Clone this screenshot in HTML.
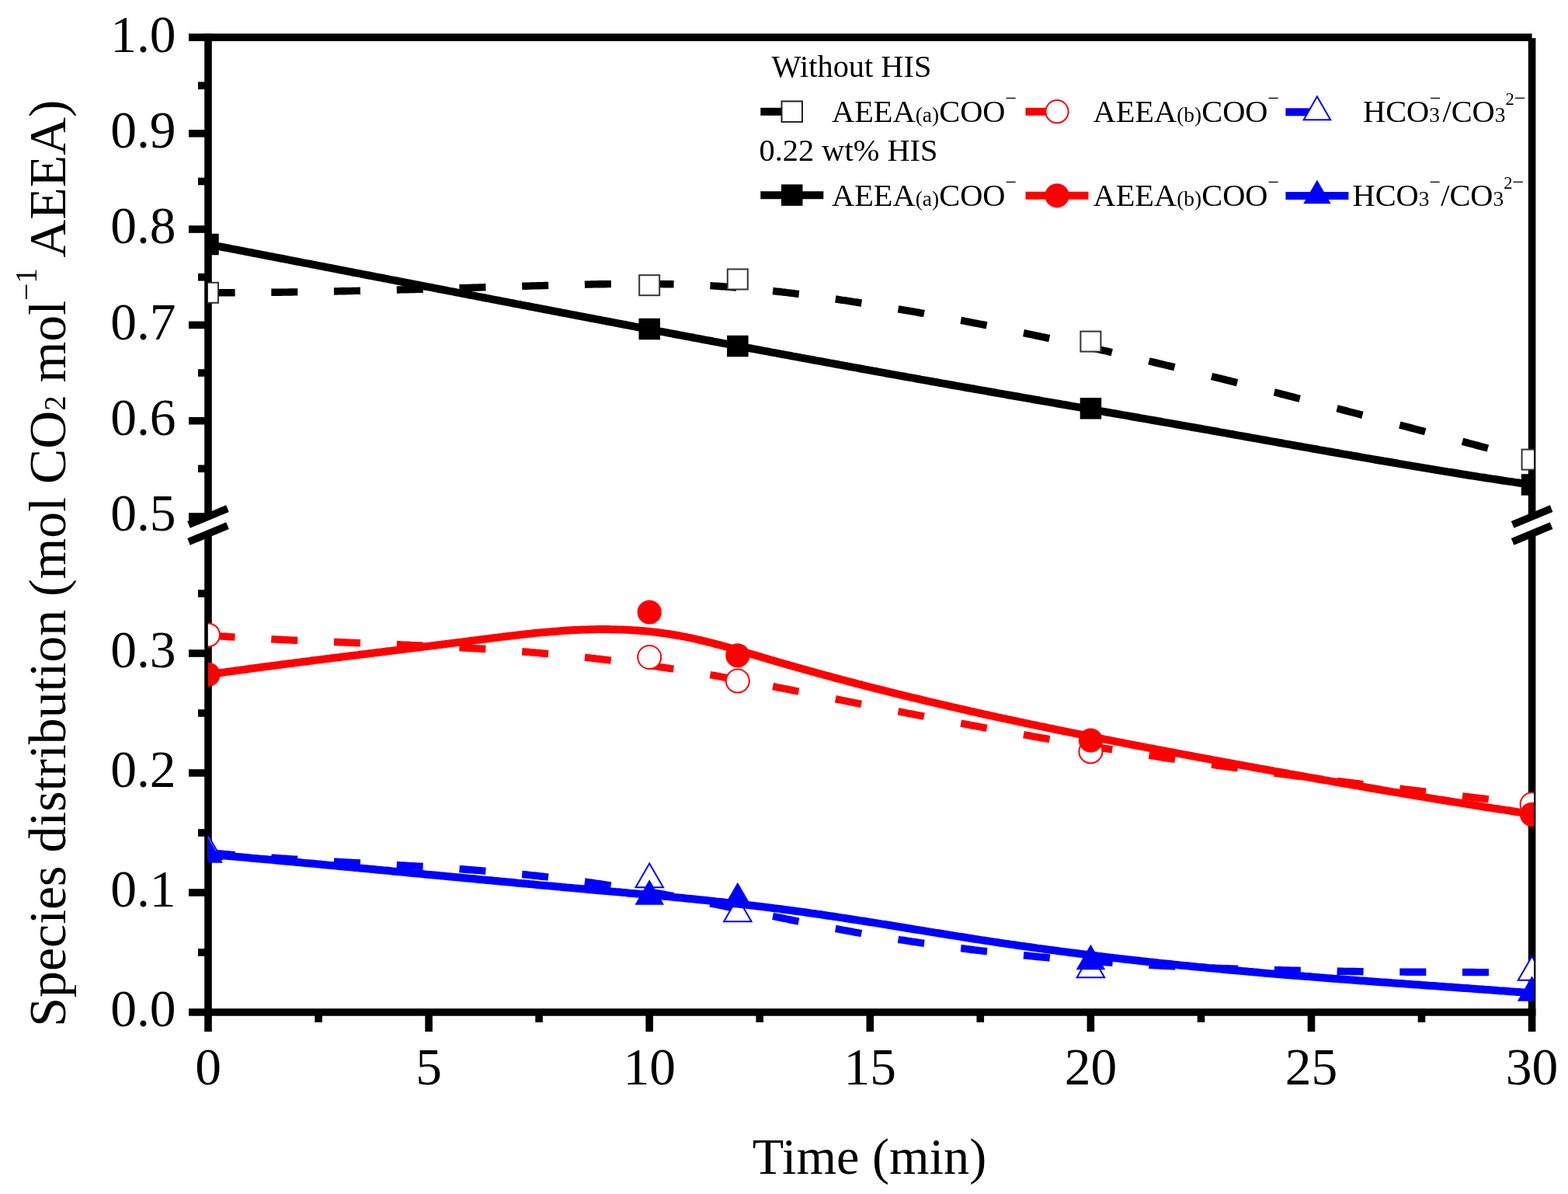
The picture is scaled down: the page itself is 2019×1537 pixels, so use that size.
<!DOCTYPE html>
<html><head><meta charset="utf-8"><title>Species distribution</title>
<style>
html,body{margin:0;padding:0;background:#fff;overflow:hidden;width:2019px;height:1537px;}
svg{display:block;}
text{font-family:'Liberation Serif','Times New Roman',serif;fill:#000;}
</style></head><body>
<svg width="2019" height="1537" viewBox="0 0 2019 1537">
<rect width="2019" height="1537" fill="#fff"/>
<defs><clipPath id="pc"><rect x="267.8" y="40" width="1707.2" height="1265"/></clipPath></defs>
<line x1="243.0" y1="48.1" x2="1972.6" y2="48.1" stroke="#000" stroke-width="9.6"/>
<line x1="243.0" y1="1303.0" x2="1977.4" y2="1303.0" stroke="#000" stroke-width="9.6"/>
<line x1="268.0" y1="43.3" x2="268.0" y2="665.0" stroke="#000" stroke-width="9.6"/>
<line x1="268.0" y1="687.0" x2="268.0" y2="1328.0" stroke="#000" stroke-width="9.6"/>
<line x1="1972.6" y1="49.1" x2="1972.6" y2="665.0" stroke="#000" stroke-width="9.6"/>
<line x1="1972.6" y1="687.0" x2="1972.6" y2="1328.0" stroke="#000" stroke-width="9.6"/>
<line x1="410.1" y1="1303.0" x2="410.1" y2="1316.0" stroke="#000" stroke-width="9.6"/>
<line x1="552.1" y1="1303.0" x2="552.1" y2="1328.0" stroke="#000" stroke-width="9.6"/>
<line x1="694.1" y1="1303.0" x2="694.1" y2="1316.0" stroke="#000" stroke-width="9.6"/>
<line x1="836.2" y1="1303.0" x2="836.2" y2="1328.0" stroke="#000" stroke-width="9.6"/>
<line x1="978.2" y1="1303.0" x2="978.2" y2="1316.0" stroke="#000" stroke-width="9.6"/>
<line x1="1120.3" y1="1303.0" x2="1120.3" y2="1328.0" stroke="#000" stroke-width="9.6"/>
<line x1="1262.3" y1="1303.0" x2="1262.3" y2="1316.0" stroke="#000" stroke-width="9.6"/>
<line x1="1404.4" y1="1303.0" x2="1404.4" y2="1328.0" stroke="#000" stroke-width="9.6"/>
<line x1="1546.5" y1="1303.0" x2="1546.5" y2="1316.0" stroke="#000" stroke-width="9.6"/>
<line x1="1688.5" y1="1303.0" x2="1688.5" y2="1328.0" stroke="#000" stroke-width="9.6"/>
<line x1="1830.5" y1="1303.0" x2="1830.5" y2="1316.0" stroke="#000" stroke-width="9.6"/>
<line x1="255.0" y1="1226.0" x2="268.0" y2="1226.0" stroke="#000" stroke-width="9.6"/>
<line x1="243.0" y1="1149.0" x2="268.0" y2="1149.0" stroke="#000" stroke-width="9.6"/>
<line x1="255.0" y1="1072.0" x2="268.0" y2="1072.0" stroke="#000" stroke-width="9.6"/>
<line x1="243.0" y1="995.0" x2="268.0" y2="995.0" stroke="#000" stroke-width="9.6"/>
<line x1="255.0" y1="918.0" x2="268.0" y2="918.0" stroke="#000" stroke-width="9.6"/>
<line x1="243.0" y1="841.0" x2="268.0" y2="841.0" stroke="#000" stroke-width="9.6"/>
<line x1="255.0" y1="764.0" x2="268.0" y2="764.0" stroke="#000" stroke-width="9.6"/>
<line x1="243.0" y1="665.0" x2="268.0" y2="665.0" stroke="#000" stroke-width="9.6"/>
<line x1="255.0" y1="603.3" x2="268.0" y2="603.3" stroke="#000" stroke-width="9.6"/>
<line x1="243.0" y1="541.7" x2="268.0" y2="541.7" stroke="#000" stroke-width="9.6"/>
<line x1="255.0" y1="480.0" x2="268.0" y2="480.0" stroke="#000" stroke-width="9.6"/>
<line x1="243.0" y1="418.4" x2="268.0" y2="418.4" stroke="#000" stroke-width="9.6"/>
<line x1="255.0" y1="356.8" x2="268.0" y2="356.8" stroke="#000" stroke-width="9.6"/>
<line x1="243.0" y1="295.1" x2="268.0" y2="295.1" stroke="#000" stroke-width="9.6"/>
<line x1="255.0" y1="233.5" x2="268.0" y2="233.5" stroke="#000" stroke-width="9.6"/>
<line x1="243.0" y1="171.8" x2="268.0" y2="171.8" stroke="#000" stroke-width="9.6"/>
<line x1="255.0" y1="110.2" x2="268.0" y2="110.2" stroke="#000" stroke-width="9.6"/>
<line x1="243.0" y1="675.3" x2="293.0" y2="654.7" stroke="#000" stroke-width="9.5"/>
<line x1="243.0" y1="697.3" x2="293.0" y2="676.7" stroke="#000" stroke-width="9.5"/>
<line x1="1947.6" y1="675.3" x2="1997.6" y2="654.7" stroke="#000" stroke-width="9.5"/>
<line x1="1947.6" y1="697.3" x2="1997.6" y2="676.7" stroke="#000" stroke-width="9.5"/>
<g clip-path="url(#pc)">
<path d="M268.6,376.8 L271.5,376.8 L274.5,376.8 L277.5,376.8 L280.5,376.8 L283.5,376.8 L286.5,376.8 L289.5,376.8 L292.5,376.8 L295.5,376.7 L298.5,376.7 L302.6,376.7 M349.3,376.3 L352.0,376.3 L355.0,376.3 L358.0,376.2 L361.0,376.2 L364.0,376.1 L367.0,376.1 L370.0,376.1 L373.0,376.0 L376.0,376.0 L379.0,375.9 L383.3,375.9 M430.0,375.0 L433.0,375.0 L436.0,374.9 L439.0,374.8 L442.0,374.8 L445.0,374.7 L448.0,374.6 L451.0,374.6 L454.0,374.5 L457.0,374.4 L460.0,374.4 L464.0,374.3 M510.8,373.1 L513.5,373.0 L516.5,372.9 L519.5,372.9 L522.5,372.8 L525.5,372.7 L528.5,372.6 L531.5,372.5 L534.5,372.5 L537.5,372.4 L540.5,372.3 L544.7,372.2 M591.5,370.8 L594.0,370.7 L597.0,370.6 L600.0,370.6 L603.0,370.5 L606.0,370.4 L609.0,370.3 L612.0,370.2 L615.0,370.1 L618.0,370.0 L621.0,369.9 L625.5,369.8 M672.2,368.4 L675.0,368.3 L678.0,368.2 L681.0,368.1 L684.0,368.0 L687.0,367.9 L690.0,367.9 L693.0,367.8 L696.0,367.7 L699.0,367.6 L702.0,367.5 L706.2,367.4 M752.9,366.2 L755.5,366.1 L758.5,366.1 L761.5,366.0 L764.5,365.9 L767.5,365.9 L770.5,365.8 L773.5,365.8 L776.5,365.7 L779.5,365.7 L782.5,365.6 L786.9,365.6 M833.6,365.4 L836.5,365.4 L839.5,365.5 L842.5,365.5 L845.5,365.5 L848.5,365.6 L851.5,365.6 L854.5,365.7 L857.5,365.7 L860.5,365.8 L863.5,365.8 L867.6,365.9 M914.4,367.8 L917.0,367.9 L920.0,368.1 L923.0,368.3 L926.0,368.5 L929.0,368.7 L932.0,368.9 L935.0,369.1 L938.0,369.3 L941.0,369.5 L944.0,369.7 L948.3,370.1 M995.1,374.5 L998.0,374.9 L1001.0,375.2 L1004.0,375.5 L1007.0,375.9 L1010.0,376.2 L1013.0,376.6 L1016.0,376.9 L1019.0,377.3 L1022.0,377.7 L1025.0,378.1 L1028.8,378.5 M1075.8,385.0 L1078.5,385.4 L1081.5,385.8 L1084.5,386.3 L1087.5,386.7 L1090.5,387.2 L1093.5,387.6 L1096.5,388.1 L1099.5,388.6 L1102.5,389.0 L1105.5,389.5 L1109.4,390.1 M1156.5,397.8 L1159.5,398.3 L1162.5,398.8 L1165.5,399.4 L1168.5,399.9 L1171.5,400.4 L1174.5,400.9 L1177.5,401.4 L1180.5,402.0 L1183.5,402.5 L1186.5,403.0 L1190.0,403.7 M1237.2,412.4 L1240.0,412.9 L1243.0,413.5 L1246.0,414.1 L1249.0,414.7 L1252.0,415.3 L1255.0,415.9 L1258.0,416.4 L1261.0,417.0 L1264.0,417.6 L1267.0,418.2 L1270.6,418.9 M1318.0,428.6 L1320.5,429.1 L1323.5,429.8 L1326.5,430.4 L1329.5,431.0 L1332.5,431.7 L1335.5,432.3 L1338.5,432.9 L1341.5,433.6 L1344.5,434.2 L1347.5,434.9 L1351.2,435.7 M1398.7,446.1 L1401.5,446.8 L1404.5,447.4 L1407.5,448.1 L1410.5,448.8 L1413.5,449.5 L1416.5,450.2 L1419.5,450.9 L1422.5,451.5 L1425.5,452.2 L1428.5,452.9 L1431.8,453.7 M1479.4,464.8 L1482.0,465.5 L1485.0,466.2 L1488.0,466.9 L1491.0,467.6 L1494.0,468.3 L1497.0,469.0 L1500.0,469.8 L1503.0,470.5 L1506.0,471.2 L1509.0,471.9 L1512.5,472.8 M1560.1,484.5 L1563.0,485.2 L1566.0,485.9 L1569.0,486.7 L1572.0,487.4 L1575.0,488.2 L1578.0,488.9 L1581.0,489.7 L1584.0,490.4 L1587.0,491.2 L1590.0,491.9 L1593.1,492.7 M1640.8,504.9 L1643.5,505.5 L1646.5,506.3 L1649.5,507.1 L1652.5,507.8 L1655.5,508.6 L1658.5,509.4 L1661.5,510.2 L1664.5,510.9 L1667.5,511.7 L1670.5,512.5 L1673.8,513.3 M1721.6,525.8 L1724.5,526.5 L1727.5,527.3 L1730.5,528.1 L1733.5,528.9 L1736.5,529.7 L1739.5,530.5 L1742.5,531.2 L1745.5,532.0 L1748.5,532.8 L1751.5,533.6 L1754.4,534.4 M1802.3,547.0 L1805.0,547.7 L1808.0,548.5 L1811.0,549.3 L1814.0,550.1 L1817.0,550.9 L1820.0,551.7 L1823.0,552.5 L1826.0,553.3 L1829.0,554.1 L1832.0,554.8 L1835.2,555.7 M1883.0,568.3 L1886.0,569.1 L1889.0,569.9 L1892.0,570.7 L1895.0,571.5 L1898.0,572.3 L1901.0,573.1 L1904.0,573.9 L1907.0,574.7 L1910.0,575.5 L1913.0,576.2 L1915.9,577.0 M1963.7,589.6 L1966.5,590.3 L1969.5,591.1 L1972.6,591.9" fill="none" stroke="#000" stroke-width="9.4"/>
<rect x="255.0" y="363.8" width="26" height="26" fill="#fff" stroke="#333" stroke-width="2"/>
<rect x="823.2" y="354.2" width="26" height="26" fill="#fff" stroke="#333" stroke-width="2"/>
<rect x="936.8" y="346.5" width="26" height="26" fill="#fff" stroke="#333" stroke-width="2"/>
<rect x="1391.4" y="426.6" width="26" height="26" fill="#fff" stroke="#333" stroke-width="2"/>
<rect x="1959.6" y="578.6" width="26" height="26" fill="#fff" stroke="#333" stroke-width="2"/>
<path d="M268.6,817.8 L271.5,818.0 L274.5,818.3 L277.5,818.5 L280.5,818.7 L283.5,818.9 L286.5,819.1 L289.5,819.3 L292.5,819.5 L295.5,819.7 L298.5,819.9 L302.5,820.1 M349.3,822.7 L352.0,822.9 L355.0,823.0 L358.0,823.2 L361.0,823.3 L364.0,823.5 L367.0,823.6 L370.0,823.8 L373.0,823.9 L376.0,824.1 L379.0,824.2 L383.3,824.4 M430.0,826.4 L433.0,826.5 L436.0,826.7 L439.0,826.8 L442.0,826.9 L445.0,827.0 L448.0,827.1 L451.0,827.3 L454.0,827.4 L457.0,827.5 L460.0,827.6 L464.0,827.8 M510.8,829.7 L513.5,829.8 L516.5,829.9 L519.5,830.1 L522.5,830.2 L525.5,830.3 L528.5,830.5 L531.5,830.6 L534.5,830.7 L537.5,830.9 L540.5,831.0 L544.7,831.2 M591.5,833.5 L594.0,833.7 L597.0,833.8 L600.0,834.0 L603.0,834.2 L606.0,834.3 L609.0,834.5 L612.0,834.7 L615.0,834.9 L618.0,835.0 L621.0,835.2 L625.4,835.5 M672.2,838.8 L675.0,839.0 L678.0,839.2 L681.0,839.4 L684.0,839.7 L687.0,839.9 L690.0,840.2 L693.0,840.4 L696.0,840.7 L699.0,841.0 L702.0,841.2 L706.1,841.6 M752.9,846.2 L755.5,846.5 L758.5,846.8 L761.5,847.2 L764.5,847.5 L767.5,847.9 L770.5,848.2 L773.5,848.5 L776.5,848.9 L779.5,849.2 L782.5,849.6 L786.7,850.1 M833.6,856.2 L836.5,856.6 L839.5,857.0 L842.5,857.5 L845.5,857.9 L848.5,858.3 L851.5,858.8 L854.5,859.2 L857.5,859.7 L860.5,860.1 L863.5,860.6 L867.3,861.1 M914.4,868.7 L917.0,869.2 L920.0,869.7 L923.0,870.2 L926.0,870.7 L929.0,871.3 L932.0,871.8 L935.0,872.3 L938.0,872.9 L941.0,873.4 L944.0,873.9 L947.8,874.6 M995.1,883.6 L998.0,884.2 L1001.0,884.8 L1004.0,885.3 L1007.0,885.9 L1010.0,886.5 L1013.0,887.1 L1016.0,887.7 L1019.0,888.3 L1022.0,888.9 L1025.0,889.5 L1028.4,890.2 M1075.8,899.7 L1078.5,900.3 L1081.5,900.9 L1084.5,901.5 L1087.5,902.1 L1090.5,902.7 L1093.5,903.3 L1096.5,903.9 L1099.5,904.5 L1102.5,905.1 L1105.5,905.7 L1109.1,906.4 M1156.5,915.7 L1159.5,916.3 L1162.5,916.9 L1165.5,917.5 L1168.5,918.1 L1171.5,918.6 L1174.5,919.2 L1177.5,919.8 L1180.5,920.4 L1183.5,920.9 L1186.5,921.5 L1189.9,922.2 M1237.2,931.1 L1240.0,931.6 L1243.0,932.2 L1246.0,932.7 L1249.0,933.3 L1252.0,933.8 L1255.0,934.4 L1258.0,934.9 L1261.0,935.5 L1264.0,936.0 L1267.0,936.6 L1270.7,937.3 M1318.0,945.7 L1320.5,946.2 L1323.5,946.7 L1326.5,947.2 L1329.5,947.8 L1332.5,948.3 L1335.5,948.8 L1338.5,949.3 L1341.5,949.9 L1344.5,950.4 L1347.5,950.9 L1351.5,951.6 M1398.7,959.5 L1401.5,960.0 L1404.5,960.5 L1407.5,961.0 L1410.5,961.5 L1413.5,962.0 L1416.5,962.5 L1419.5,963.0 L1422.5,963.4 L1425.5,963.9 L1428.5,964.4 L1432.2,965.0 M1479.4,972.4 L1482.0,972.8 L1485.0,973.2 L1488.0,973.7 L1491.0,974.2 L1494.0,974.6 L1497.0,975.1 L1500.0,975.5 L1503.0,976.0 L1506.0,976.4 L1509.0,976.8 L1513.0,977.4 M1560.1,984.2 L1563.0,984.6 L1566.0,985.0 L1569.0,985.5 L1572.0,985.9 L1575.0,986.3 L1578.0,986.7 L1581.0,987.1 L1584.0,987.5 L1587.0,987.9 L1590.0,988.4 L1593.8,988.9 M1640.8,995.1 L1643.5,995.5 L1646.5,995.9 L1649.5,996.3 L1652.5,996.7 L1655.5,997.0 L1658.5,997.4 L1661.5,997.8 L1664.5,998.2 L1667.5,998.6 L1670.5,999.0 L1674.6,999.5 M1721.6,1005.4 L1724.5,1005.8 L1727.5,1006.1 L1730.5,1006.5 L1733.5,1006.9 L1736.5,1007.2 L1739.5,1007.6 L1742.5,1008.0 L1745.5,1008.3 L1748.5,1008.7 L1751.5,1009.1 L1755.3,1009.5 M1802.3,1015.2 L1805.0,1015.5 L1808.0,1015.9 L1811.0,1016.2 L1814.0,1016.6 L1817.0,1017.0 L1820.0,1017.3 L1823.0,1017.7 L1826.0,1018.0 L1829.0,1018.4 L1832.0,1018.8 L1836.0,1019.2 M1883.0,1024.8 L1886.0,1025.2 L1889.0,1025.5 L1892.0,1025.9 L1895.0,1026.2 L1898.0,1026.6 L1901.0,1026.9 L1904.0,1027.3 L1907.0,1027.7 L1910.0,1028.0 L1913.0,1028.4 L1916.8,1028.8 M1963.7,1034.4 L1966.5,1034.8 L1969.5,1035.1 L1972.6,1035.5" fill="none" stroke="#f00" stroke-width="9.4"/>
<circle cx="268.0" cy="817.4" r="15" fill="#fff" stroke="#f00" stroke-width="2"/>
<circle cx="836.2" cy="846.0" r="15" fill="#fff" stroke="#f00" stroke-width="2"/>
<circle cx="949.8" cy="876.6" r="15" fill="#fff" stroke="#f00" stroke-width="2"/>
<circle cx="1404.4" cy="967.4" r="15" fill="#fff" stroke="#f00" stroke-width="2"/>
<circle cx="1972.6" cy="1035.3" r="15" fill="#fff" stroke="#f00" stroke-width="2"/>
<path d="M268.6,1097.6 L271.5,1097.8 L274.5,1098.1 L277.5,1098.4 L280.5,1098.7 L283.5,1098.9 L286.5,1099.2 L289.5,1099.5 L292.5,1099.7 L295.5,1100.0 L298.5,1100.2 L302.5,1100.6 M349.3,1104.1 L352.0,1104.3 L355.0,1104.5 L358.0,1104.7 L361.0,1104.9 L364.0,1105.1 L367.0,1105.3 L370.0,1105.5 L373.0,1105.7 L376.0,1105.9 L379.0,1106.1 L383.2,1106.3 M430.0,1109.1 L433.0,1109.2 L436.0,1109.4 L439.0,1109.6 L442.0,1109.7 L445.0,1109.9 L448.0,1110.1 L451.0,1110.2 L454.0,1110.4 L457.0,1110.6 L460.0,1110.7 L464.0,1110.9 M510.8,1113.5 L513.5,1113.7 L516.5,1113.9 L519.5,1114.0 L522.5,1114.2 L525.5,1114.4 L528.5,1114.6 L531.5,1114.7 L534.5,1114.9 L537.5,1115.1 L540.5,1115.3 L544.7,1115.5 M591.5,1118.6 L594.0,1118.8 L597.0,1119.0 L600.0,1119.2 L603.0,1119.5 L606.0,1119.7 L609.0,1119.9 L612.0,1120.2 L615.0,1120.4 L618.0,1120.6 L621.0,1120.9 L625.4,1121.2 M672.2,1125.5 L675.0,1125.7 L678.0,1126.0 L681.0,1126.3 L684.0,1126.7 L687.0,1127.0 L690.0,1127.3 L693.0,1127.6 L696.0,1128.0 L699.0,1128.3 L702.0,1128.6 L706.0,1129.1 M752.9,1135.0 L755.5,1135.4 L758.5,1135.8 L761.5,1136.2 L764.5,1136.6 L767.5,1137.1 L770.5,1137.5 L773.5,1137.9 L776.5,1138.4 L779.5,1138.8 L782.5,1139.3 L786.6,1139.9 M833.6,1147.5 L836.5,1148.0 L839.5,1148.5 L842.5,1149.1 L845.5,1149.6 L848.5,1150.1 L851.5,1150.7 L854.5,1151.2 L857.5,1151.8 L860.5,1152.3 L863.5,1152.9 L867.1,1153.5 M914.4,1162.8 L917.0,1163.3 L920.0,1163.9 L923.0,1164.5 L926.0,1165.1 L929.0,1165.7 L932.0,1166.3 L935.0,1167.0 L938.0,1167.6 L941.0,1168.2 L944.0,1168.8 L947.7,1169.6 M995.1,1179.4 L998.0,1180.0 L1001.0,1180.6 L1004.0,1181.2 L1007.0,1181.8 L1010.0,1182.4 L1013.0,1183.0 L1016.0,1183.6 L1019.0,1184.3 L1022.0,1184.9 L1025.0,1185.5 L1028.4,1186.2 M1075.8,1195.4 L1078.5,1195.9 L1081.5,1196.5 L1084.5,1197.0 L1087.5,1197.6 L1090.5,1198.1 L1093.5,1198.7 L1096.5,1199.2 L1099.5,1199.8 L1102.5,1200.3 L1105.5,1200.8 L1109.3,1201.5 M1156.5,1209.3 L1159.5,1209.8 L1162.5,1210.2 L1165.5,1210.7 L1168.5,1211.2 L1171.5,1211.6 L1174.5,1212.1 L1177.5,1212.5 L1180.5,1212.9 L1183.5,1213.4 L1186.5,1213.8 L1190.1,1214.3 M1237.2,1220.7 L1240.0,1221.0 L1243.0,1221.4 L1246.0,1221.8 L1249.0,1222.1 L1252.0,1222.5 L1255.0,1222.9 L1258.0,1223.2 L1261.0,1223.6 L1264.0,1223.9 L1267.0,1224.3 L1271.0,1224.7 M1318.0,1229.8 L1320.5,1230.0 L1323.5,1230.3 L1326.5,1230.6 L1329.5,1230.9 L1332.5,1231.2 L1335.5,1231.5 L1338.5,1231.8 L1341.5,1232.0 L1344.5,1232.3 L1347.5,1232.6 L1351.8,1233.0 M1398.7,1236.9 L1401.5,1237.1 L1404.5,1237.3 L1407.5,1237.5 L1410.5,1237.8 L1413.5,1238.0 L1416.5,1238.2 L1419.5,1238.4 L1422.5,1238.6 L1425.5,1238.8 L1428.5,1239.0 L1432.6,1239.3 M1479.4,1242.2 L1482.0,1242.3 L1485.0,1242.5 L1488.0,1242.7 L1491.0,1242.8 L1494.0,1243.0 L1497.0,1243.2 L1500.0,1243.3 L1503.0,1243.5 L1506.0,1243.6 L1509.0,1243.8 L1513.4,1244.0 M1560.1,1246.0 L1563.0,1246.1 L1566.0,1246.3 L1569.0,1246.4 L1572.0,1246.5 L1575.0,1246.6 L1578.0,1246.7 L1581.0,1246.8 L1584.0,1246.9 L1587.0,1247.0 L1590.0,1247.1 L1594.1,1247.3 M1640.8,1248.6 L1643.5,1248.7 L1646.5,1248.8 L1649.5,1248.8 L1652.5,1248.9 L1655.5,1249.0 L1658.5,1249.0 L1661.5,1249.1 L1664.5,1249.2 L1667.5,1249.2 L1670.5,1249.3 L1674.8,1249.4 M1721.6,1250.2 L1724.5,1250.3 L1727.5,1250.3 L1730.5,1250.4 L1733.5,1250.4 L1736.5,1250.4 L1739.5,1250.5 L1742.5,1250.5 L1745.5,1250.5 L1748.5,1250.6 L1751.5,1250.6 L1755.6,1250.7 M1802.3,1251.1 L1805.0,1251.1 L1808.0,1251.1 L1811.0,1251.2 L1814.0,1251.2 L1817.0,1251.2 L1820.0,1251.2 L1823.0,1251.2 L1826.0,1251.3 L1829.0,1251.3 L1832.0,1251.3 L1836.3,1251.3 M1883.0,1251.5 L1886.0,1251.5 L1889.0,1251.5 L1892.0,1251.5 L1895.0,1251.5 L1898.0,1251.5 L1901.0,1251.6 L1904.0,1251.6 L1907.0,1251.6 L1910.0,1251.6 L1913.0,1251.6 L1917.0,1251.6 M1963.7,1251.7 L1966.5,1251.7 L1969.5,1251.7 L1972.6,1251.7" fill="none" stroke="#00f" stroke-width="9.4"/>
<polygon points="268.0,1075.5 250.2,1106.2 285.8,1106.2" fill="#fff" stroke="#00f" stroke-width="2" stroke-linejoin="miter"/>
<polygon points="836.2,1111.5 818.5,1142.2 854.0,1142.2" fill="#fff" stroke="#00f" stroke-width="2" stroke-linejoin="miter"/>
<polygon points="949.8,1155.5 932.1,1186.2 967.6,1186.2" fill="#fff" stroke="#00f" stroke-width="2" stroke-linejoin="miter"/>
<polygon points="1404.4,1227.5 1386.7,1258.2 1422.2,1258.2" fill="#fff" stroke="#00f" stroke-width="2" stroke-linejoin="miter"/>
<polygon points="1972.6,1231.0 1954.8,1261.7 1990.3,1261.7" fill="#fff" stroke="#00f" stroke-width="2" stroke-linejoin="miter"/>
<path d="M268.0,314.5 L271.0,315.1 L274.0,315.7 L277.0,316.2 L280.0,316.8 L283.0,317.4 L286.0,318.0 L289.0,318.5 L292.0,319.1 L295.0,319.7 L298.0,320.3 L301.0,320.9 L304.0,321.4 L307.0,322.0 L310.0,322.6 L313.0,323.2 L316.0,323.8 L319.0,324.3 L322.0,324.9 L325.0,325.5 L328.0,326.1 L331.0,326.7 L334.0,327.2 L337.0,327.8 L340.0,328.4 L343.0,329.0 L346.0,329.6 L349.0,330.1 L352.0,330.7 L355.0,331.3 L358.0,331.9 L361.0,332.5 L364.0,333.0 L367.0,333.6 L370.0,334.2 L373.0,334.8 L376.0,335.4 L379.0,336.0 L382.0,336.5 L385.0,337.1 L388.0,337.7 L391.0,338.3 L394.0,338.9 L397.0,339.4 L400.0,340.0 L403.0,340.6 L406.0,341.2 L409.0,341.8 L412.0,342.3 L415.0,342.9 L418.0,343.5 L421.0,344.1 L424.0,344.7 L427.0,345.2 L430.0,345.8 L433.0,346.4 L436.0,347.0 L439.0,347.6 L442.0,348.2 L445.0,348.7 L448.0,349.3 L451.0,349.9 L454.0,350.5 L457.0,351.1 L460.0,351.6 L463.0,352.2 L466.0,352.8 L469.0,353.4 L472.0,354.0 L475.0,354.5 L478.0,355.1 L481.0,355.7 L484.0,356.3 L487.0,356.9 L490.0,357.4 L493.0,358.0 L496.0,358.6 L499.0,359.2 L502.0,359.8 L505.0,360.4 L508.0,360.9 L511.0,361.5 L514.0,362.1 L517.0,362.7 L520.0,363.3 L523.0,363.8 L526.0,364.4 L529.0,365.0 L532.0,365.6 L535.0,366.2 L538.0,366.7 L541.0,367.3 L544.0,367.9 L547.0,368.5 L550.0,369.1 L553.0,369.6 L556.0,370.2 L559.0,370.8 L562.0,371.4 L565.0,372.0 L568.0,372.5 L571.0,373.1 L574.0,373.7 L577.0,374.3 L580.0,374.9 L583.0,375.4 L586.0,376.0 L589.0,376.6 L592.0,377.2 L595.0,377.8 L598.0,378.3 L601.0,378.9 L604.0,379.5 L607.0,380.1 L610.0,380.6 L613.0,381.2 L616.0,381.8 L619.0,382.4 L622.0,383.0 L625.0,383.5 L628.0,384.1 L631.0,384.7 L634.0,385.3 L637.0,385.9 L640.0,386.4 L643.0,387.0 L646.0,387.6 L649.0,388.2 L652.0,388.7 L655.0,389.3 L658.0,389.9 L661.0,390.5 L664.0,391.1 L667.0,391.6 L670.0,392.2 L673.0,392.8 L676.0,393.4 L679.0,393.9 L682.0,394.5 L685.0,395.1 L688.0,395.7 L691.0,396.2 L694.0,396.8 L697.0,397.4 L700.0,398.0 L703.0,398.5 L706.0,399.1 L709.0,399.7 L712.0,400.3 L715.0,400.8 L718.0,401.4 L721.0,402.0 L724.0,402.6 L727.0,403.1 L730.0,403.7 L733.0,404.3 L736.0,404.9 L739.0,405.4 L742.0,406.0 L745.0,406.6 L748.0,407.2 L751.0,407.7 L754.0,408.3 L757.0,408.9 L760.0,409.5 L763.0,410.0 L766.0,410.6 L769.0,411.2 L772.0,411.7 L775.0,412.3 L778.0,412.9 L781.0,413.5 L784.0,414.0 L787.0,414.6 L790.0,415.2 L793.0,415.7 L796.0,416.3 L799.0,416.9 L802.0,417.5 L805.0,418.0 L808.0,418.6 L811.0,419.2 L814.0,419.7 L817.0,420.3 L820.0,420.9 L823.0,421.5 L826.0,422.0 L829.0,422.6 L832.0,423.2 L835.0,423.7 L838.0,424.3 L841.0,424.9 L844.0,425.4 L847.0,426.0 L850.0,426.6 L853.0,427.1 L856.0,427.7 L859.0,428.3 L862.0,428.8 L865.0,429.4 L868.0,430.0 L871.0,430.5 L874.0,431.1 L877.0,431.7 L880.0,432.2 L883.0,432.8 L886.0,433.4 L889.0,433.9 L892.0,434.5 L895.0,435.1 L898.0,435.6 L901.0,436.2 L904.0,436.8 L907.0,437.3 L910.0,437.9 L913.0,438.4 L916.0,439.0 L919.0,439.6 L922.0,440.1 L925.0,440.7 L928.0,441.3 L931.0,441.8 L934.0,442.4 L937.0,442.9 L940.0,443.5 L943.0,444.1 L946.0,444.6 L949.0,445.2 L952.0,445.7 L955.0,446.3 L958.0,446.9 L961.0,447.4 L964.0,448.0 L967.0,448.5 L970.0,449.1 L973.0,449.7 L976.0,450.2 L979.0,450.8 L982.0,451.3 L985.0,451.9 L988.0,452.4 L991.0,453.0 L994.0,453.6 L997.0,454.1 L1000.0,454.7 L1003.0,455.2 L1006.0,455.8 L1009.0,456.3 L1012.0,456.9 L1015.0,457.4 L1018.0,458.0 L1021.0,458.6 L1024.0,459.1 L1027.0,459.7 L1030.0,460.2 L1033.0,460.8 L1036.0,461.3 L1039.0,461.9 L1042.0,462.4 L1045.0,463.0 L1048.0,463.5 L1051.0,464.1 L1054.0,464.6 L1057.0,465.2 L1060.0,465.7 L1063.0,466.3 L1066.0,466.8 L1069.0,467.4 L1072.0,467.9 L1075.0,468.5 L1078.0,469.0 L1081.0,469.6 L1084.0,470.1 L1087.0,470.7 L1090.0,471.2 L1093.0,471.8 L1096.0,472.3 L1099.0,472.9 L1102.0,473.4 L1105.0,473.9 L1108.0,474.5 L1111.0,475.0 L1114.0,475.6 L1117.0,476.1 L1120.0,476.7 L1123.0,477.2 L1126.0,477.8 L1129.0,478.3 L1132.0,478.8 L1135.0,479.4 L1138.0,479.9 L1141.0,480.5 L1144.0,481.0 L1147.0,481.6 L1150.0,482.1 L1153.0,482.6 L1156.0,483.2 L1159.0,483.7 L1162.0,484.3 L1165.0,484.8 L1168.0,485.3 L1171.0,485.9 L1174.0,486.4 L1177.0,486.9 L1180.0,487.5 L1183.0,488.0 L1186.0,488.6 L1189.0,489.1 L1192.0,489.6 L1195.0,490.2 L1198.0,490.7 L1201.0,491.2 L1204.0,491.8 L1207.0,492.3 L1210.0,492.8 L1213.0,493.4 L1216.0,493.9 L1219.0,494.4 L1222.0,495.0 L1225.0,495.5 L1228.0,496.0 L1231.0,496.6 L1234.0,497.1 L1237.0,497.6 L1240.0,498.2 L1243.0,498.7 L1246.0,499.2 L1249.0,499.7 L1252.0,500.3 L1255.0,500.8 L1258.0,501.3 L1261.0,501.9 L1264.0,502.4 L1267.0,502.9 L1270.0,503.4 L1273.0,504.0 L1276.0,504.5 L1279.0,505.0 L1282.0,505.5 L1285.0,506.1 L1288.0,506.6 L1291.0,507.1 L1294.0,507.7 L1297.0,508.2 L1300.0,508.7 L1303.0,509.2 L1306.0,509.8 L1309.0,510.3 L1312.0,510.8 L1315.0,511.3 L1318.0,511.9 L1321.0,512.4 L1324.0,512.9 L1327.0,513.4 L1330.0,514.0 L1333.0,514.5 L1336.0,515.0 L1339.0,515.5 L1342.0,516.1 L1345.0,516.6 L1348.0,517.1 L1351.0,517.6 L1354.0,518.1 L1357.0,518.7 L1360.0,519.2 L1363.0,519.7 L1366.0,520.2 L1369.0,520.8 L1372.0,521.3 L1375.0,521.8 L1378.0,522.3 L1381.0,522.9 L1384.0,523.4 L1387.0,523.9 L1390.0,524.4 L1393.0,525.0 L1396.0,525.5 L1399.0,526.0 L1402.0,526.5 L1405.0,527.0 L1408.0,527.6 L1411.0,528.1 L1414.0,528.6 L1417.0,529.1 L1420.0,529.7 L1423.0,530.2 L1426.0,530.7 L1429.0,531.2 L1432.0,531.8 L1435.0,532.3 L1438.0,532.8 L1441.0,533.3 L1444.0,533.9 L1447.0,534.4 L1450.0,534.9 L1453.0,535.4 L1456.0,536.0 L1459.0,536.5 L1462.0,537.0 L1465.0,537.5 L1468.0,538.1 L1471.0,538.6 L1474.0,539.1 L1477.0,539.6 L1480.0,540.2 L1483.0,540.7 L1486.0,541.2 L1489.0,541.7 L1492.0,542.3 L1495.0,542.8 L1498.0,543.3 L1501.0,543.9 L1504.0,544.4 L1507.0,544.9 L1510.0,545.4 L1513.0,546.0 L1516.0,546.5 L1519.0,547.0 L1522.0,547.6 L1525.0,548.1 L1528.0,548.6 L1531.0,549.2 L1534.0,549.7 L1537.0,550.2 L1540.0,550.7 L1543.0,551.3 L1546.0,551.8 L1549.0,552.3 L1552.0,552.9 L1555.0,553.4 L1558.0,553.9 L1561.0,554.5 L1564.0,555.0 L1567.0,555.5 L1570.0,556.1 L1573.0,556.6 L1576.0,557.1 L1579.0,557.7 L1582.0,558.2 L1585.0,558.8 L1588.0,559.3 L1591.0,559.8 L1594.0,560.4 L1597.0,560.9 L1600.0,561.4 L1603.0,562.0 L1606.0,562.5 L1609.0,563.0 L1612.0,563.6 L1615.0,564.1 L1618.0,564.6 L1621.0,565.2 L1624.0,565.7 L1627.0,566.3 L1630.0,566.8 L1633.0,567.3 L1636.0,567.9 L1639.0,568.4 L1642.0,568.9 L1645.0,569.5 L1648.0,570.0 L1651.0,570.5 L1654.0,571.1 L1657.0,571.6 L1660.0,572.1 L1663.0,572.7 L1666.0,573.2 L1669.0,573.7 L1672.0,574.3 L1675.0,574.8 L1678.0,575.3 L1681.0,575.9 L1684.0,576.4 L1687.0,576.9 L1690.0,577.5 L1693.0,578.0 L1696.0,578.5 L1699.0,579.1 L1702.0,579.6 L1705.0,580.1 L1708.0,580.7 L1711.0,581.2 L1714.0,581.7 L1717.0,582.2 L1720.0,582.8 L1723.0,583.3 L1726.0,583.8 L1729.0,584.4 L1732.0,584.9 L1735.0,585.4 L1738.0,585.9 L1741.0,586.5 L1744.0,587.0 L1747.0,587.5 L1750.0,588.0 L1753.0,588.6 L1756.0,589.1 L1759.0,589.6 L1762.0,590.1 L1765.0,590.6 L1768.0,591.2 L1771.0,591.7 L1774.0,592.2 L1777.0,592.7 L1780.0,593.2 L1783.0,593.8 L1786.0,594.3 L1789.0,594.8 L1792.0,595.3 L1795.0,595.8 L1798.0,596.3 L1801.0,596.8 L1804.0,597.4 L1807.0,597.9 L1810.0,598.4 L1813.0,598.9 L1816.0,599.4 L1819.0,599.9 L1822.0,600.4 L1825.0,600.9 L1828.0,601.4 L1831.0,601.9 L1834.0,602.4 L1837.0,602.9 L1840.0,603.4 L1843.0,603.9 L1846.0,604.4 L1849.0,604.9 L1852.0,605.4 L1855.0,605.9 L1858.0,606.4 L1861.0,606.9 L1864.0,607.4 L1867.0,607.8 L1870.0,608.3 L1873.0,608.8 L1876.0,609.3 L1879.0,609.8 L1882.0,610.3 L1885.0,610.7 L1888.0,611.2 L1891.0,611.7 L1894.0,612.2 L1897.0,612.6 L1900.0,613.1 L1903.0,613.6 L1906.0,614.1 L1909.0,614.5 L1912.0,615.0 L1915.0,615.5 L1918.0,615.9 L1921.0,616.4 L1924.0,616.8 L1927.0,617.3 L1930.0,617.8 L1933.0,618.2 L1936.0,618.7 L1939.0,619.1 L1942.0,619.6 L1945.0,620.0 L1948.0,620.4 L1951.0,620.9 L1954.0,621.3 L1957.0,621.8 L1960.0,622.2 L1963.0,622.6 L1966.0,623.1 L1969.0,623.5 L1972.0,623.9 L1972.6,624.0" fill="none" stroke="#000" stroke-width="10"/>
<rect x="254.2" y="300.8" width="27.5" height="27.5" fill="#000" stroke="none" stroke-width="0"/>
<rect x="822.5" y="409.8" width="27.5" height="27.5" fill="#000" stroke="none" stroke-width="0"/>
<rect x="936.1" y="431.8" width="27.5" height="27.5" fill="#000" stroke="none" stroke-width="0"/>
<rect x="1390.7" y="512.0" width="27.5" height="27.5" fill="#000" stroke="none" stroke-width="0"/>
<rect x="1958.8" y="610.2" width="27.5" height="27.5" fill="#000" stroke="none" stroke-width="0"/>
<path d="M268.0,868.3 L271.0,867.9 L274.0,867.5 L277.0,867.0 L280.0,866.6 L283.0,866.2 L286.0,865.8 L289.0,865.4 L292.0,864.9 L295.0,864.5 L298.0,864.1 L301.0,863.7 L304.0,863.3 L307.0,862.9 L310.0,862.5 L313.0,862.1 L316.0,861.7 L319.0,861.3 L322.0,860.8 L325.0,860.4 L328.0,860.0 L331.0,859.6 L334.0,859.2 L337.0,858.8 L340.0,858.4 L343.0,858.1 L346.0,857.7 L349.0,857.3 L352.0,856.9 L355.0,856.5 L358.0,856.1 L361.0,855.7 L364.0,855.3 L367.0,854.9 L370.0,854.5 L373.0,854.1 L376.0,853.8 L379.0,853.4 L382.0,853.0 L385.0,852.6 L388.0,852.2 L391.0,851.8 L394.0,851.5 L397.0,851.1 L400.0,850.7 L403.0,850.3 L406.0,849.9 L409.0,849.5 L412.0,849.2 L415.0,848.8 L418.0,848.4 L421.0,848.0 L424.0,847.7 L427.0,847.3 L430.0,846.9 L433.0,846.5 L436.0,846.2 L439.0,845.8 L442.0,845.4 L445.0,845.0 L448.0,844.7 L451.0,844.3 L454.0,843.9 L457.0,843.5 L460.0,843.2 L463.0,842.8 L466.0,842.4 L469.0,842.1 L472.0,841.7 L475.0,841.3 L478.0,840.9 L481.0,840.6 L484.0,840.2 L487.0,839.8 L490.0,839.5 L493.0,839.1 L496.0,838.7 L499.0,838.3 L502.0,838.0 L505.0,837.6 L508.0,837.2 L511.0,836.9 L514.0,836.5 L517.0,836.1 L520.0,835.7 L523.0,835.4 L526.0,835.0 L529.0,834.6 L532.0,834.3 L535.0,833.9 L538.0,833.5 L541.0,833.1 L544.0,832.8 L547.0,832.4 L550.0,832.0 L553.0,831.6 L556.0,831.3 L559.0,830.9 L562.0,830.5 L565.0,830.1 L568.0,829.8 L571.0,829.4 L574.0,829.0 L577.0,828.6 L580.0,828.3 L583.0,827.9 L586.0,827.5 L589.0,827.1 L592.0,826.7 L595.0,826.4 L598.0,826.0 L601.0,825.6 L604.0,825.2 L607.0,824.8 L610.0,824.5 L613.0,824.1 L616.0,823.7 L619.0,823.3 L622.0,822.9 L625.0,822.5 L628.0,822.2 L631.0,821.8 L634.0,821.4 L637.0,821.0 L640.0,820.6 L643.0,820.3 L646.0,819.9 L649.0,819.5 L652.0,819.2 L655.0,818.8 L658.0,818.5 L661.0,818.1 L664.0,817.8 L667.0,817.4 L670.0,817.1 L673.0,816.7 L676.0,816.4 L679.0,816.1 L682.0,815.8 L685.0,815.4 L688.0,815.1 L691.0,814.8 L694.0,814.5 L697.0,814.3 L700.0,814.0 L703.0,813.7 L706.0,813.4 L709.0,813.2 L712.0,812.9 L715.0,812.7 L718.0,812.5 L721.0,812.2 L724.0,812.0 L727.0,811.8 L730.0,811.6 L733.0,811.5 L736.0,811.3 L739.0,811.1 L742.0,811.0 L745.0,810.8 L748.0,810.7 L751.0,810.6 L754.0,810.5 L757.0,810.4 L760.0,810.3 L763.0,810.2 L766.0,810.2 L769.0,810.1 L772.0,810.1 L775.0,810.1 L778.0,810.1 L781.0,810.1 L784.0,810.1 L787.0,810.2 L790.0,810.2 L793.0,810.3 L796.0,810.4 L799.0,810.5 L802.0,810.6 L805.0,810.7 L808.0,810.8 L811.0,811.0 L814.0,811.2 L817.0,811.4 L820.0,811.6 L823.0,811.8 L826.0,812.0 L829.0,812.3 L832.0,812.6 L835.0,812.8 L838.0,813.1 L841.0,813.5 L844.0,813.8 L847.0,814.2 L850.0,814.6 L853.0,814.9 L856.0,815.4 L859.0,815.8 L862.0,816.2 L865.0,816.7 L868.0,817.2 L871.0,817.7 L874.0,818.2 L877.0,818.8 L880.0,819.4 L883.0,819.9 L886.0,820.6 L889.0,821.2 L892.0,821.8 L895.0,822.5 L898.0,823.2 L901.0,823.8 L904.0,824.6 L907.0,825.3 L910.0,826.0 L913.0,826.8 L916.0,827.5 L919.0,828.3 L922.0,829.1 L925.0,829.9 L928.0,830.7 L931.0,831.5 L934.0,832.3 L937.0,833.2 L940.0,834.0 L943.0,834.9 L946.0,835.7 L949.0,836.6 L952.0,837.5 L955.0,838.3 L958.0,839.2 L961.0,840.1 L964.0,841.0 L967.0,841.9 L970.0,842.7 L973.0,843.6 L976.0,844.5 L979.0,845.4 L982.0,846.3 L985.0,847.2 L988.0,848.1 L991.0,849.0 L994.0,849.8 L997.0,850.7 L1000.0,851.6 L1003.0,852.5 L1006.0,853.3 L1009.0,854.2 L1012.0,855.1 L1015.0,855.9 L1018.0,856.8 L1021.0,857.6 L1024.0,858.5 L1027.0,859.3 L1030.0,860.2 L1033.0,861.0 L1036.0,861.9 L1039.0,862.7 L1042.0,863.5 L1045.0,864.4 L1048.0,865.2 L1051.0,866.0 L1054.0,866.9 L1057.0,867.7 L1060.0,868.5 L1063.0,869.3 L1066.0,870.1 L1069.0,870.9 L1072.0,871.7 L1075.0,872.6 L1078.0,873.4 L1081.0,874.2 L1084.0,875.0 L1087.0,875.7 L1090.0,876.5 L1093.0,877.3 L1096.0,878.1 L1099.0,878.9 L1102.0,879.7 L1105.0,880.5 L1108.0,881.2 L1111.0,882.0 L1114.0,882.8 L1117.0,883.6 L1120.0,884.3 L1123.0,885.1 L1126.0,885.9 L1129.0,886.6 L1132.0,887.4 L1135.0,888.1 L1138.0,888.9 L1141.0,889.6 L1144.0,890.4 L1147.0,891.1 L1150.0,891.9 L1153.0,892.6 L1156.0,893.4 L1159.0,894.1 L1162.0,894.8 L1165.0,895.6 L1168.0,896.3 L1171.0,897.0 L1174.0,897.8 L1177.0,898.5 L1180.0,899.2 L1183.0,899.9 L1186.0,900.7 L1189.0,901.4 L1192.0,902.1 L1195.0,902.8 L1198.0,903.5 L1201.0,904.2 L1204.0,904.9 L1207.0,905.6 L1210.0,906.3 L1213.0,907.0 L1216.0,907.7 L1219.0,908.4 L1222.0,909.1 L1225.0,909.8 L1228.0,910.5 L1231.0,911.2 L1234.0,911.9 L1237.0,912.6 L1240.0,913.2 L1243.0,913.9 L1246.0,914.6 L1249.0,915.3 L1252.0,916.0 L1255.0,916.6 L1258.0,917.3 L1261.0,918.0 L1264.0,918.6 L1267.0,919.3 L1270.0,920.0 L1273.0,920.6 L1276.0,921.3 L1279.0,921.9 L1282.0,922.6 L1285.0,923.3 L1288.0,923.9 L1291.0,924.6 L1294.0,925.2 L1297.0,925.9 L1300.0,926.5 L1303.0,927.2 L1306.0,927.8 L1309.0,928.4 L1312.0,929.1 L1315.0,929.7 L1318.0,930.4 L1321.0,931.0 L1324.0,931.6 L1327.0,932.3 L1330.0,932.9 L1333.0,933.5 L1336.0,934.2 L1339.0,934.8 L1342.0,935.4 L1345.0,936.0 L1348.0,936.7 L1351.0,937.3 L1354.0,937.9 L1357.0,938.5 L1360.0,939.1 L1363.0,939.8 L1366.0,940.4 L1369.0,941.0 L1372.0,941.6 L1375.0,942.2 L1378.0,942.8 L1381.0,943.4 L1384.0,944.0 L1387.0,944.6 L1390.0,945.2 L1393.0,945.8 L1396.0,946.4 L1399.0,947.0 L1402.0,947.6 L1405.0,948.2 L1408.0,948.8 L1411.0,949.4 L1414.0,950.0 L1417.0,950.6 L1420.0,951.2 L1423.0,951.8 L1426.0,952.4 L1429.0,953.0 L1432.0,953.6 L1435.0,954.2 L1438.0,954.8 L1441.0,955.3 L1444.0,955.9 L1447.0,956.5 L1450.0,957.1 L1453.0,957.7 L1456.0,958.3 L1459.0,958.8 L1462.0,959.4 L1465.0,960.0 L1468.0,960.6 L1471.0,961.1 L1474.0,961.7 L1477.0,962.3 L1480.0,962.9 L1483.0,963.4 L1486.0,964.0 L1489.0,964.6 L1492.0,965.1 L1495.0,965.7 L1498.0,966.3 L1501.0,966.8 L1504.0,967.4 L1507.0,968.0 L1510.0,968.5 L1513.0,969.1 L1516.0,969.7 L1519.0,970.2 L1522.0,970.8 L1525.0,971.4 L1528.0,971.9 L1531.0,972.5 L1534.0,973.0 L1537.0,973.6 L1540.0,974.2 L1543.0,974.7 L1546.0,975.3 L1549.0,975.8 L1552.0,976.4 L1555.0,976.9 L1558.0,977.5 L1561.0,978.1 L1564.0,978.6 L1567.0,979.2 L1570.0,979.7 L1573.0,980.3 L1576.0,980.8 L1579.0,981.4 L1582.0,981.9 L1585.0,982.5 L1588.0,983.0 L1591.0,983.6 L1594.0,984.1 L1597.0,984.7 L1600.0,985.2 L1603.0,985.8 L1606.0,986.3 L1609.0,986.9 L1612.0,987.4 L1615.0,988.0 L1618.0,988.5 L1621.0,989.1 L1624.0,989.6 L1627.0,990.1 L1630.0,990.7 L1633.0,991.2 L1636.0,991.8 L1639.0,992.3 L1642.0,992.9 L1645.0,993.4 L1648.0,993.9 L1651.0,994.5 L1654.0,995.0 L1657.0,995.5 L1660.0,996.1 L1663.0,996.6 L1666.0,997.2 L1669.0,997.7 L1672.0,998.2 L1675.0,998.8 L1678.0,999.3 L1681.0,999.8 L1684.0,1000.4 L1687.0,1000.9 L1690.0,1001.4 L1693.0,1002.0 L1696.0,1002.5 L1699.0,1003.0 L1702.0,1003.5 L1705.0,1004.1 L1708.0,1004.6 L1711.0,1005.1 L1714.0,1005.7 L1717.0,1006.2 L1720.0,1006.7 L1723.0,1007.2 L1726.0,1007.8 L1729.0,1008.3 L1732.0,1008.8 L1735.0,1009.3 L1738.0,1009.8 L1741.0,1010.4 L1744.0,1010.9 L1747.0,1011.4 L1750.0,1011.9 L1753.0,1012.4 L1756.0,1012.9 L1759.0,1013.5 L1762.0,1014.0 L1765.0,1014.5 L1768.0,1015.0 L1771.0,1015.5 L1774.0,1016.0 L1777.0,1016.5 L1780.0,1017.1 L1783.0,1017.6 L1786.0,1018.1 L1789.0,1018.6 L1792.0,1019.1 L1795.0,1019.6 L1798.0,1020.1 L1801.0,1020.6 L1804.0,1021.1 L1807.0,1021.6 L1810.0,1022.1 L1813.0,1022.6 L1816.0,1023.1 L1819.0,1023.6 L1822.0,1024.1 L1825.0,1024.6 L1828.0,1025.1 L1831.0,1025.6 L1834.0,1026.1 L1837.0,1026.6 L1840.0,1027.1 L1843.0,1027.6 L1846.0,1028.1 L1849.0,1028.6 L1852.0,1029.1 L1855.0,1029.5 L1858.0,1030.0 L1861.0,1030.5 L1864.0,1031.0 L1867.0,1031.5 L1870.0,1032.0 L1873.0,1032.5 L1876.0,1032.9 L1879.0,1033.4 L1882.0,1033.9 L1885.0,1034.4 L1888.0,1034.9 L1891.0,1035.4 L1894.0,1035.8 L1897.0,1036.3 L1900.0,1036.8 L1903.0,1037.3 L1906.0,1037.7 L1909.0,1038.2 L1912.0,1038.7 L1915.0,1039.2 L1918.0,1039.6 L1921.0,1040.1 L1924.0,1040.6 L1927.0,1041.0 L1930.0,1041.5 L1933.0,1042.0 L1936.0,1042.4 L1939.0,1042.9 L1942.0,1043.3 L1945.0,1043.8 L1948.0,1044.3 L1951.0,1044.7 L1954.0,1045.2 L1957.0,1045.6 L1960.0,1046.1 L1963.0,1046.6 L1966.0,1047.0 L1969.0,1047.5 L1972.0,1047.9 L1972.6,1048.0" fill="none" stroke="#f00" stroke-width="10"/>
<circle cx="268.0" cy="868.3" r="15.6" fill="#f00" stroke="none" stroke-width="0"/>
<circle cx="836.2" cy="788.0" r="15.6" fill="#f00" stroke="none" stroke-width="0"/>
<circle cx="949.8" cy="843.8" r="15.6" fill="#f00" stroke="none" stroke-width="0"/>
<circle cx="1404.4" cy="953.0" r="15.6" fill="#f00" stroke="none" stroke-width="0"/>
<circle cx="1972.6" cy="1048.4" r="15.6" fill="#f00" stroke="none" stroke-width="0"/>
<path d="M268.0,1099.6 L271.0,1099.9 L274.0,1100.1 L277.0,1100.4 L280.0,1100.6 L283.0,1100.9 L286.0,1101.2 L289.0,1101.4 L292.0,1101.7 L295.0,1102.0 L298.0,1102.2 L301.0,1102.5 L304.0,1102.8 L307.0,1103.0 L310.0,1103.3 L313.0,1103.6 L316.0,1103.8 L319.0,1104.1 L322.0,1104.4 L325.0,1104.7 L328.0,1104.9 L331.0,1105.2 L334.0,1105.5 L337.0,1105.7 L340.0,1106.0 L343.0,1106.3 L346.0,1106.6 L349.0,1106.8 L352.0,1107.1 L355.0,1107.4 L358.0,1107.7 L361.0,1107.9 L364.0,1108.2 L367.0,1108.5 L370.0,1108.8 L373.0,1109.0 L376.0,1109.3 L379.0,1109.6 L382.0,1109.9 L385.0,1110.1 L388.0,1110.4 L391.0,1110.7 L394.0,1111.0 L397.0,1111.2 L400.0,1111.5 L403.0,1111.8 L406.0,1112.1 L409.0,1112.4 L412.0,1112.6 L415.0,1112.9 L418.0,1113.2 L421.0,1113.5 L424.0,1113.8 L427.0,1114.0 L430.0,1114.3 L433.0,1114.6 L436.0,1114.9 L439.0,1115.2 L442.0,1115.4 L445.0,1115.7 L448.0,1116.0 L451.0,1116.3 L454.0,1116.6 L457.0,1116.9 L460.0,1117.1 L463.0,1117.4 L466.0,1117.7 L469.0,1118.0 L472.0,1118.3 L475.0,1118.6 L478.0,1118.8 L481.0,1119.1 L484.0,1119.4 L487.0,1119.7 L490.0,1120.0 L493.0,1120.3 L496.0,1120.5 L499.0,1120.8 L502.0,1121.1 L505.0,1121.4 L508.0,1121.7 L511.0,1122.0 L514.0,1122.2 L517.0,1122.5 L520.0,1122.8 L523.0,1123.1 L526.0,1123.4 L529.0,1123.7 L532.0,1124.0 L535.0,1124.2 L538.0,1124.5 L541.0,1124.8 L544.0,1125.1 L547.0,1125.4 L550.0,1125.7 L553.0,1125.9 L556.0,1126.2 L559.0,1126.5 L562.0,1126.8 L565.0,1127.1 L568.0,1127.4 L571.0,1127.6 L574.0,1127.9 L577.0,1128.2 L580.0,1128.5 L583.0,1128.8 L586.0,1129.1 L589.0,1129.3 L592.0,1129.6 L595.0,1129.9 L598.0,1130.2 L601.0,1130.5 L604.0,1130.8 L607.0,1131.0 L610.0,1131.3 L613.0,1131.6 L616.0,1131.9 L619.0,1132.2 L622.0,1132.5 L625.0,1132.7 L628.0,1133.0 L631.0,1133.3 L634.0,1133.6 L637.0,1133.9 L640.0,1134.1 L643.0,1134.4 L646.0,1134.7 L649.0,1135.0 L652.0,1135.3 L655.0,1135.5 L658.0,1135.8 L661.0,1136.1 L664.0,1136.4 L667.0,1136.7 L670.0,1136.9 L673.0,1137.2 L676.0,1137.5 L679.0,1137.8 L682.0,1138.1 L685.0,1138.3 L688.0,1138.6 L691.0,1138.9 L694.0,1139.2 L697.0,1139.4 L700.0,1139.7 L703.0,1140.0 L706.0,1140.3 L709.0,1140.5 L712.0,1140.8 L715.0,1141.1 L718.0,1141.4 L721.0,1141.6 L724.0,1141.9 L727.0,1142.2 L730.0,1142.5 L733.0,1142.7 L736.0,1143.0 L739.0,1143.3 L742.0,1143.5 L745.0,1143.8 L748.0,1144.1 L751.0,1144.3 L754.0,1144.6 L757.0,1144.9 L760.0,1145.2 L763.0,1145.4 L766.0,1145.7 L769.0,1146.0 L772.0,1146.2 L775.0,1146.5 L778.0,1146.8 L781.0,1147.0 L784.0,1147.3 L787.0,1147.6 L790.0,1147.8 L793.0,1148.1 L796.0,1148.3 L799.0,1148.6 L802.0,1148.9 L805.0,1149.1 L808.0,1149.4 L811.0,1149.7 L814.0,1149.9 L817.0,1150.2 L820.0,1150.5 L823.0,1150.8 L826.0,1151.0 L829.0,1151.3 L832.0,1151.6 L835.0,1151.8 L838.0,1152.1 L841.0,1152.4 L844.0,1152.7 L847.0,1152.9 L850.0,1153.2 L853.0,1153.5 L856.0,1153.8 L859.0,1154.1 L862.0,1154.3 L865.0,1154.6 L868.0,1154.9 L871.0,1155.2 L874.0,1155.5 L877.0,1155.8 L880.0,1156.1 L883.0,1156.4 L886.0,1156.7 L889.0,1157.0 L892.0,1157.3 L895.0,1157.6 L898.0,1157.9 L901.0,1158.2 L904.0,1158.5 L907.0,1158.8 L910.0,1159.1 L913.0,1159.4 L916.0,1159.7 L919.0,1160.0 L922.0,1160.4 L925.0,1160.7 L928.0,1161.0 L931.0,1161.3 L934.0,1161.7 L937.0,1162.0 L940.0,1162.3 L943.0,1162.7 L946.0,1163.0 L949.0,1163.4 L952.0,1163.7 L955.0,1164.1 L958.0,1164.4 L961.0,1164.8 L964.0,1165.1 L967.0,1165.5 L970.0,1165.8 L973.0,1166.2 L976.0,1166.5 L979.0,1166.9 L982.0,1167.3 L985.0,1167.6 L988.0,1168.0 L991.0,1168.4 L994.0,1168.8 L997.0,1169.2 L1000.0,1169.5 L1003.0,1169.9 L1006.0,1170.3 L1009.0,1170.7 L1012.0,1171.1 L1015.0,1171.5 L1018.0,1171.9 L1021.0,1172.3 L1024.0,1172.7 L1027.0,1173.1 L1030.0,1173.5 L1033.0,1173.9 L1036.0,1174.3 L1039.0,1174.8 L1042.0,1175.2 L1045.0,1175.6 L1048.0,1176.0 L1051.0,1176.5 L1054.0,1176.9 L1057.0,1177.3 L1060.0,1177.8 L1063.0,1178.2 L1066.0,1178.7 L1069.0,1179.1 L1072.0,1179.5 L1075.0,1180.0 L1078.0,1180.4 L1081.0,1180.9 L1084.0,1181.4 L1087.0,1181.8 L1090.0,1182.3 L1093.0,1182.7 L1096.0,1183.2 L1099.0,1183.7 L1102.0,1184.1 L1105.0,1184.6 L1108.0,1185.1 L1111.0,1185.5 L1114.0,1186.0 L1117.0,1186.5 L1120.0,1187.0 L1123.0,1187.4 L1126.0,1187.9 L1129.0,1188.4 L1132.0,1188.9 L1135.0,1189.4 L1138.0,1189.8 L1141.0,1190.3 L1144.0,1190.8 L1147.0,1191.3 L1150.0,1191.8 L1153.0,1192.3 L1156.0,1192.8 L1159.0,1193.2 L1162.0,1193.7 L1165.0,1194.2 L1168.0,1194.7 L1171.0,1195.2 L1174.0,1195.7 L1177.0,1196.2 L1180.0,1196.7 L1183.0,1197.1 L1186.0,1197.6 L1189.0,1198.1 L1192.0,1198.6 L1195.0,1199.1 L1198.0,1199.6 L1201.0,1200.1 L1204.0,1200.6 L1207.0,1201.0 L1210.0,1201.5 L1213.0,1202.0 L1216.0,1202.5 L1219.0,1203.0 L1222.0,1203.5 L1225.0,1203.9 L1228.0,1204.4 L1231.0,1204.9 L1234.0,1205.4 L1237.0,1205.8 L1240.0,1206.3 L1243.0,1206.8 L1246.0,1207.3 L1249.0,1207.7 L1252.0,1208.2 L1255.0,1208.7 L1258.0,1209.1 L1261.0,1209.6 L1264.0,1210.1 L1267.0,1210.5 L1270.0,1211.0 L1273.0,1211.4 L1276.0,1211.9 L1279.0,1212.4 L1282.0,1212.8 L1285.0,1213.2 L1288.0,1213.7 L1291.0,1214.1 L1294.0,1214.6 L1297.0,1215.0 L1300.0,1215.5 L1303.0,1215.9 L1306.0,1216.3 L1309.0,1216.8 L1312.0,1217.2 L1315.0,1217.6 L1318.0,1218.0 L1321.0,1218.5 L1324.0,1218.9 L1327.0,1219.3 L1330.0,1219.7 L1333.0,1220.1 L1336.0,1220.6 L1339.0,1221.0 L1342.0,1221.4 L1345.0,1221.8 L1348.0,1222.2 L1351.0,1222.6 L1354.0,1223.0 L1357.0,1223.4 L1360.0,1223.8 L1363.0,1224.2 L1366.0,1224.6 L1369.0,1225.0 L1372.0,1225.4 L1375.0,1225.8 L1378.0,1226.2 L1381.0,1226.5 L1384.0,1226.9 L1387.0,1227.3 L1390.0,1227.7 L1393.0,1228.1 L1396.0,1228.4 L1399.0,1228.8 L1402.0,1229.2 L1405.0,1229.6 L1408.0,1229.9 L1411.0,1230.3 L1414.0,1230.7 L1417.0,1231.0 L1420.0,1231.4 L1423.0,1231.8 L1426.0,1232.1 L1429.0,1232.5 L1432.0,1232.8 L1435.0,1233.2 L1438.0,1233.5 L1441.0,1233.9 L1444.0,1234.2 L1447.0,1234.6 L1450.0,1234.9 L1453.0,1235.3 L1456.0,1235.6 L1459.0,1235.9 L1462.0,1236.3 L1465.0,1236.6 L1468.0,1236.9 L1471.0,1237.3 L1474.0,1237.6 L1477.0,1237.9 L1480.0,1238.3 L1483.0,1238.6 L1486.0,1238.9 L1489.0,1239.2 L1492.0,1239.6 L1495.0,1239.9 L1498.0,1240.2 L1501.0,1240.5 L1504.0,1240.8 L1507.0,1241.1 L1510.0,1241.4 L1513.0,1241.8 L1516.0,1242.1 L1519.0,1242.4 L1522.0,1242.7 L1525.0,1243.0 L1528.0,1243.3 L1531.0,1243.6 L1534.0,1243.9 L1537.0,1244.2 L1540.0,1244.5 L1543.0,1244.8 L1546.0,1245.0 L1549.0,1245.3 L1552.0,1245.6 L1555.0,1245.9 L1558.0,1246.2 L1561.0,1246.5 L1564.0,1246.8 L1567.0,1247.0 L1570.0,1247.3 L1573.0,1247.6 L1576.0,1247.9 L1579.0,1248.2 L1582.0,1248.4 L1585.0,1248.7 L1588.0,1249.0 L1591.0,1249.3 L1594.0,1249.5 L1597.0,1249.8 L1600.0,1250.1 L1603.0,1250.3 L1606.0,1250.6 L1609.0,1250.9 L1612.0,1251.1 L1615.0,1251.4 L1618.0,1251.6 L1621.0,1251.9 L1624.0,1252.2 L1627.0,1252.4 L1630.0,1252.7 L1633.0,1252.9 L1636.0,1253.2 L1639.0,1253.4 L1642.0,1253.7 L1645.0,1253.9 L1648.0,1254.2 L1651.0,1254.4 L1654.0,1254.7 L1657.0,1254.9 L1660.0,1255.2 L1663.0,1255.4 L1666.0,1255.7 L1669.0,1255.9 L1672.0,1256.1 L1675.0,1256.4 L1678.0,1256.6 L1681.0,1256.9 L1684.0,1257.1 L1687.0,1257.3 L1690.0,1257.6 L1693.0,1257.8 L1696.0,1258.0 L1699.0,1258.3 L1702.0,1258.5 L1705.0,1258.7 L1708.0,1259.0 L1711.0,1259.2 L1714.0,1259.4 L1717.0,1259.7 L1720.0,1259.9 L1723.0,1260.1 L1726.0,1260.4 L1729.0,1260.6 L1732.0,1260.8 L1735.0,1261.0 L1738.0,1261.3 L1741.0,1261.5 L1744.0,1261.7 L1747.0,1261.9 L1750.0,1262.2 L1753.0,1262.4 L1756.0,1262.6 L1759.0,1262.8 L1762.0,1263.1 L1765.0,1263.3 L1768.0,1263.5 L1771.0,1263.7 L1774.0,1263.9 L1777.0,1264.2 L1780.0,1264.4 L1783.0,1264.6 L1786.0,1264.8 L1789.0,1265.0 L1792.0,1265.3 L1795.0,1265.5 L1798.0,1265.7 L1801.0,1265.9 L1804.0,1266.1 L1807.0,1266.3 L1810.0,1266.6 L1813.0,1266.8 L1816.0,1267.0 L1819.0,1267.2 L1822.0,1267.4 L1825.0,1267.6 L1828.0,1267.8 L1831.0,1268.1 L1834.0,1268.3 L1837.0,1268.5 L1840.0,1268.7 L1843.0,1268.9 L1846.0,1269.1 L1849.0,1269.3 L1852.0,1269.6 L1855.0,1269.8 L1858.0,1270.0 L1861.0,1270.2 L1864.0,1270.4 L1867.0,1270.6 L1870.0,1270.8 L1873.0,1271.1 L1876.0,1271.3 L1879.0,1271.5 L1882.0,1271.7 L1885.0,1271.9 L1888.0,1272.1 L1891.0,1272.3 L1894.0,1272.6 L1897.0,1272.8 L1900.0,1273.0 L1903.0,1273.2 L1906.0,1273.4 L1909.0,1273.6 L1912.0,1273.9 L1915.0,1274.1 L1918.0,1274.3 L1921.0,1274.5 L1924.0,1274.7 L1927.0,1274.9 L1930.0,1275.2 L1933.0,1275.4 L1936.0,1275.6 L1939.0,1275.8 L1942.0,1276.0 L1945.0,1276.3 L1948.0,1276.5 L1951.0,1276.7 L1954.0,1276.9 L1957.0,1277.1 L1960.0,1277.4 L1963.0,1277.6 L1966.0,1277.8 L1969.0,1278.0 L1972.0,1278.3 L1972.6,1278.3" fill="none" stroke="#00f" stroke-width="10"/>
<polygon points="268.0,1078.3 249.2,1110.8 286.8,1110.8" fill="#00f" stroke="none" stroke-width="0" stroke-linejoin="miter"/>
<polygon points="836.2,1132.3 817.5,1164.8 855.0,1164.8" fill="#00f" stroke="none" stroke-width="0" stroke-linejoin="miter"/>
<polygon points="949.8,1135.8 931.1,1168.3 968.6,1168.3" fill="#00f" stroke="none" stroke-width="0" stroke-linejoin="miter"/>
<polygon points="1404.4,1215.8 1385.7,1248.3 1423.2,1248.3" fill="#00f" stroke="none" stroke-width="0" stroke-linejoin="miter"/>
<polygon points="1972.6,1256.3 1953.8,1288.8 1991.3,1288.8" fill="#00f" stroke="none" stroke-width="0" stroke-linejoin="miter"/>
</g>
<text x="226.5" y="1321.2" font-size="67.5" text-anchor="end">0.0</text>
<text x="226.5" y="1167.2" font-size="67.5" text-anchor="end">0.1</text>
<text x="226.5" y="1013.2" font-size="67.5" text-anchor="end">0.2</text>
<text x="226.5" y="859.2" font-size="67.5" text-anchor="end">0.3</text>
<text x="226.5" y="683.2" font-size="67.5" text-anchor="end">0.5</text>
<text x="226.5" y="559.9" font-size="67.5" text-anchor="end">0.6</text>
<text x="226.5" y="436.6" font-size="67.5" text-anchor="end">0.7</text>
<text x="226.5" y="313.3" font-size="67.5" text-anchor="end">0.8</text>
<text x="226.5" y="190.0" font-size="67.5" text-anchor="end">0.9</text>
<text x="226.5" y="66.7" font-size="67.5" text-anchor="end">1.0</text>
<text x="268.0" y="1395.5" font-size="67.5" text-anchor="middle">0</text>
<text x="552.1" y="1395.5" font-size="67.5" text-anchor="middle">5</text>
<text x="836.2" y="1395.5" font-size="67.5" text-anchor="middle">10</text>
<text x="1120.3" y="1395.5" font-size="67.5" text-anchor="middle">15</text>
<text x="1404.4" y="1395.5" font-size="67.5" text-anchor="middle">20</text>
<text x="1688.5" y="1395.5" font-size="67.5" text-anchor="middle">25</text>
<text x="1972.6" y="1395.5" font-size="67.5" text-anchor="middle">30</text>
<text x="1119.6" y="1510.9" font-size="66.3" text-anchor="middle">Time (min)</text>
<text transform="translate(84,725) rotate(-90)" font-size="67.8" text-anchor="middle">Species distribution (mol CO<tspan font-size="39">2</tspan> mol<tspan font-size="39.5" dy="-37.5">−1</tspan><tspan dy="37.5"> AEEA)</tspan></text>
<text x="993.5" y="98.6" font-size="40.4">Without HIS</text>
<text x="977.5" y="206.8" font-size="40.4">0.22 wt% HIS</text>
<line x1="979.3" y1="143.7" x2="1012.8" y2="143.7" stroke="#000" stroke-width="10"/><rect x="1006.5" y="130.4" width="26.5" height="26.5" fill="#fff" stroke="#222" stroke-width="2"/>
<line x1="1320.5" y1="143.7" x2="1354.0" y2="143.7" stroke="#f00" stroke-width="10"/><circle cx="1361.0" cy="143.7" r="14.6" fill="#fff" stroke="#f00" stroke-width="2"/>
<line x1="1655.4" y1="144.2" x2="1688.9" y2="144.2" stroke="#00f" stroke-width="10"/><polygon points="1695.9,124.3 1678.7,154.2 1713.2,154.2" fill="#fff" stroke="#00f" stroke-width="2" stroke-linejoin="miter"/>
<line x1="979.3" y1="251.2" x2="1060.3" y2="251.2" stroke="#000" stroke-width="10"/><rect x="1006.0" y="237.4" width="27.5" height="27.5" fill="#000" stroke="none" stroke-width="0"/>
<line x1="1320.5" y1="251.8" x2="1401.5" y2="251.8" stroke="#f00" stroke-width="10"/><circle cx="1361.0" cy="251.8" r="15.6" fill="#f00" stroke="none" stroke-width="0"/>
<line x1="1655.4" y1="252.0" x2="1736.4" y2="252.0" stroke="#00f" stroke-width="10"/><polygon points="1695.9,231.5 1678.2,262.2 1713.7,262.2" fill="#00f" stroke="none" stroke-width="0" stroke-linejoin="miter"/>
<text x="1071" y="156.7" font-size="40.4">AEEA<tspan font-size="27.5">(a)</tspan><tspan>COO</tspan><tspan font-size="26" dy="-22">−</tspan></text>
<text x="1071" y="265.0" font-size="40.4">AEEA<tspan font-size="27.5">(a)</tspan><tspan>COO</tspan><tspan font-size="26" dy="-22">−</tspan></text>
<text x="1407.5" y="156.7" font-size="40.4">AEEA<tspan font-size="27.5">(b)</tspan><tspan>COO</tspan><tspan font-size="26" dy="-22">−</tspan></text>
<text x="1407.5" y="265.0" font-size="40.4">AEEA<tspan font-size="27.5">(b)</tspan><tspan>COO</tspan><tspan font-size="26" dy="-22">−</tspan></text>
<text x="1755" y="156.7" font-size="40.4">HCO<tspan font-size="27.5">3</tspan><tspan dx="3.4">/CO</tspan><tspan font-size="27.5">3</tspan><tspan font-size="22.5" dy="-22.2">2</tspan><tspan font-size="26.5" dy="0.6">−</tspan></text>
<text x="1841" y="134.7" font-size="26">−</text>
<text x="1741.5" y="265.0" font-size="40.4">HCO<tspan font-size="27.5">3</tspan><tspan font-size="26" dy="-22">−</tspan><tspan dy="22">/CO</tspan><tspan font-size="27.5">3</tspan><tspan font-size="22.5" dy="-22.2">2</tspan><tspan font-size="26.5" dy="0.6">−</tspan></text>
</svg>
</body></html>
